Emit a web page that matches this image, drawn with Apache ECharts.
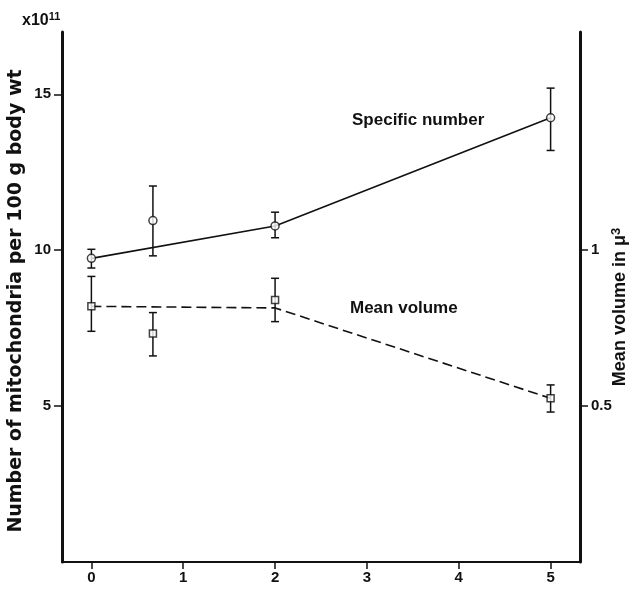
<!DOCTYPE html>
<html>
<head>
<meta charset="utf-8">
<script src="https://cdn.jsdelivr.net/npm/echarts@6/dist/echarts.min.js"></script>
<style>
    html, body { margin: 0; padding: 0; background: #fff; }
    #chart { width: 642px; height: 594px; }
</style>
</head>
<body>
<div id="chart"></div>
<script>
// x positions of the measurements
var xVals = [0, 0.67, 2, 5];
var xTicks = [0, 1, 2, 3, 4, 5];

// specific number (x10^11 per 100 g body wt)
var numMean = [9.74, 10.95, 10.78, 14.25];
var numLow = [9.43, 9.82, 10.4, 13.2];
var numHigh = [10.03, 12.06, 11.22, 15.2];

// mean volume (µ3)
var volMean = [0.82, 0.733, 0.84, 0.525];
var volLow = [0.74, 0.661, 0.771, 0.481];
var volHigh = [0.916, 0.80, 0.91, 0.568];

// drawn trend lines
var trendX = [0, 2, 5];
var numTrend = [9.74, 10.78, 14.25];
var volTrend = [0.82, 0.815, 0.525];

var leftTicks = [5, 10, 15];
var rightTicks = [0.5, 1];

var ink = '#111';
var font = 'Liberation Sans';

function pairs(xs, ys) {
    return xs.map(function (x, i) { return [x, ys[i]]; });
}
function errData(lo, hi) {
    return xVals.map(function (x, i) { return [x, lo[i], hi[i]]; });
}
function errBar(params, api) {
    var top = api.coord([api.value(0), api.value(2)]);
    var bot = api.coord([api.value(0), api.value(1)]);
    var w = 4;
    var style = { stroke: ink, lineWidth: 1.5 };
    return {
        type: 'group',
        children: [
            { type: 'line', shape: { x1: top[0], y1: top[1], x2: bot[0], y2: bot[1] }, style: style },
            { type: 'line', shape: { x1: top[0] - w, y1: top[1], x2: top[0] + w, y2: top[1] }, style: style },
            { type: 'line', shape: { x1: bot[0] - w, y1: bot[1], x2: bot[0] + w, y2: bot[1] }, style: style }
        ]
    };
}

var labelStyle = { color: ink, fontSize: 15, fontWeight: 'bold', fontFamily: font };

var chart = echarts.init(document.getElementById('chart'), null, { renderer: 'canvas' });

var option = {
    backgroundColor: '#fff',
    animation: false,
    grid: { left: 62, right: 62, top: 32, bottom: 32, containLabel: false, outerBoundsMode: 'none' },
    xAxis: {
        type: 'value',
        min: -0.32,
        max: 5.32,
        splitLine: { show: false },
        axisLine: { onZero: false, lineStyle: { color: ink, width: 2 } },
        axisTick: { customValues: xTicks, length: 7, lineStyle: { color: ink, width: 1.5 } },
        axisLabel: Object.assign({ customValues: xTicks, margin: 8 }, labelStyle)
    },
    yAxis: [{
        type: 'value',
        min: 0,
        max: 17,
        position: 'left',
        splitLine: { show: false },
        axisLine: { show: true, onZero: false, lineStyle: { color: ink, width: 3 } },
        axisTick: { customValues: leftTicks, length: 8, lineStyle: { color: ink, width: 1.5 } },
        axisLabel: Object.assign({ customValues: leftTicks, margin: 11 }, labelStyle),
        name: 'Number of mitochondria per 100 g body wt',
        nameLocation: 'middle',
        nameRotate: 90,
        nameGap: 36,
        nameMoveOverlap: false,
        nameTextStyle: { color: ink, fontSize: 19, fontWeight: 'bold', fontFamily: 'DejaVu Sans', padding: [0, 8, 0, 0] }
    }, {
        type: 'value',
        min: 0,
        max: 1.7,
        position: 'right',
        splitLine: { show: false },
        axisLine: { show: true, onZero: false, lineStyle: { color: ink, width: 3 } },
        axisTick: { customValues: rightTicks, length: 8, lineStyle: { color: ink, width: 1.5 } },
        axisLabel: Object.assign({ customValues: rightTicks, margin: 11 }, labelStyle),
        name: 'Mean volume in \u03bc{sup|3}',
        nameLocation: 'middle',
        nameRotate: 90,
        nameGap: 30,
        nameMoveOverlap: false,
        nameTextStyle: {
            color: ink, fontSize: 18, fontWeight: 'bold', fontFamily: font, padding: [0, 20, 0, 0],
            rich: { sup: { fontSize: 13, fontWeight: 'bold', fontFamily: font, color: ink, verticalAlign: 'top', padding: [0, 0, 8, 0] } }
        }
    }],
    graphic: [{
        type: 'text',
        left: 22,
        top: 11,
        style: {
            text: 'x10{sup|11}',
            fill: ink,
            font: 'bold 16px "Liberation Sans"',
            rich: { sup: { fontSize: 11, fontWeight: 'bold', fontFamily: font, padding: [0, 0, 8, 0] } }
        }
    }, {
        type: 'text',
        left: 352,
        top: 112,
        style: { text: 'Specific number', fill: ink, font: 'bold 17px "Liberation Sans"' }
    }, {
        type: 'text',
        left: 350,
        top: 300,
        style: { text: 'Mean volume', fill: ink, font: 'bold 17px "Liberation Sans"' }
    }],
    series: [{
        name: 'Specific number trend',
        type: 'line',
        data: pairs(trendX, numTrend),
        showSymbol: false,
        lineStyle: { color: ink, width: 1.6 },
        z: 2
    }, {
        name: 'Mean volume trend',
        type: 'line',
        yAxisIndex: 1,
        data: pairs(trendX, volTrend),
        showSymbol: false,
        lineStyle: { color: ink, width: 1.6, type: [10, 5] },
        z: 2
    }, {
        name: 'Specific number error',
        type: 'custom',
        data: errData(numLow, numHigh),
        renderItem: errBar,
        z: 3
    }, {
        name: 'Mean volume error',
        type: 'custom',
        yAxisIndex: 1,
        data: errData(volLow, volHigh),
        renderItem: errBar,
        z: 3
    }, {
        name: 'Specific number',
        type: 'scatter',
        data: pairs(xVals, numMean),
        symbol: 'circle',
        symbolSize: 8,
        itemStyle: { color: '#fff', borderColor: ink, borderWidth: 1.5 },
        z: 4
    }, {
        name: 'Mean volume',
        type: 'scatter',
        yAxisIndex: 1,
        data: pairs(xVals, volMean),
        symbol: 'rect',
        symbolSize: 7,
        itemStyle: { color: '#fff', borderColor: ink, borderWidth: 1.5 },
        z: 4
    }]
};

chart.setOption(option);
</script>
</body>
</html>
